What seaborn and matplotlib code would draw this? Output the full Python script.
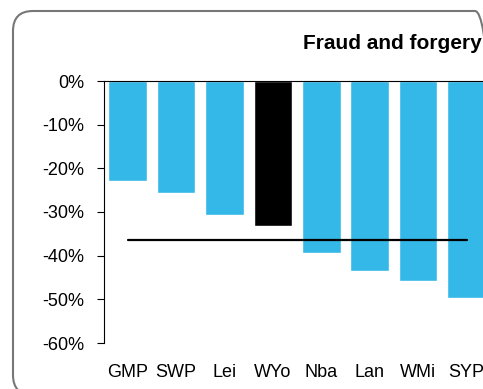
import matplotlib
matplotlib.use("Agg")
import matplotlib.pyplot as plt
from matplotlib.patches import FancyBboxPatch
from matplotlib.ticker import PercentFormatter
import seaborn as sns
import pandas as pd

# Change in recorded fraud and forgery by police force
forces = ["GMP", "SWP", "Lei", "WYo", "Nba", "Lan", "WMi", "SYP"]
change = [-0.230, -0.256, -0.308, -0.333, -0.394, -0.436, -0.459, -0.498]
highlight = "WYo"
average = -0.364
yticks = [0.0, -0.1, -0.2, -0.3, -0.4, -0.5, -0.6]

blue = "#34B8E8"
df = pd.DataFrame({"force": forces, "change": change})
palette = {f: ("#000000" if f == highlight else blue) for f in forces}

sns.set_theme(style="white")
plt.rcParams["font.family"] = ["Liberation Sans", "DejaVu Sans"]
plt.rcParams["axes.unicode_minus"] = False

W, H = 483, 389
fig = plt.figure(figsize=(W / 100, H / 100), dpi=100)
ax = fig.add_axes([104 / W, 1 - 343 / H, 386.7 / W, 262 / H])

sns.barplot(data=df, x="force", y="change", hue="force", palette=palette,
            order=forces, width=0.8, legend=False, saturation=1, ax=ax)
sns.lineplot(x=list(range(len(forces))), y=[average] * len(forces),
             color="black", linewidth=1.6, ax=ax)

ax.set_ylim(-0.6, 0)
ax.set_xlim(-0.49, 7.5)
ax.set_yticks(yticks)
ax.yaxis.set_major_formatter(PercentFormatter(1.0, decimals=0))
ax.set_xticks(range(len(forces)))
ax.set_xticklabels(forces)
ax.set_xlabel("")
ax.set_ylabel("")

for side in ["right", "bottom"]:
    ax.spines[side].set_visible(False)
for side in ["left", "top"]:
    ax.spines[side].set_visible(True)
    ax.spines[side].set_color("black")
    ax.spines[side].set_linewidth(0.8)

ax.tick_params(axis="y", direction="out", length=5, width=0.8, color="black",
               left=True, pad=9, labelsize=13, labelcolor="black")
ax.tick_params(axis="x", length=0, pad=15, labelsize=13, labelcolor="black")

fig.text(303 / W, 1 - 49 / H, "Fraud and forgery", fontsize=15,
         fontweight="bold", ha="left", va="baseline", color="black")

# rounded frame around the chart, in figure-fraction units
x0, y0, w, h = 13 / W, -6 / H, 482 / W, 384 / H
frame = FancyBboxPatch((x0, y0), w, h,
                       boxstyle=f"round,pad=0,rounding_size={20 / W}",
                       mutation_aspect=W / H,
                       transform=fig.transFigure, fill=False,
                       edgecolor="#777777", linewidth=1.5, clip_on=False)
fig.patches.append(frame)

fig.savefig("out.png", dpi=100)
